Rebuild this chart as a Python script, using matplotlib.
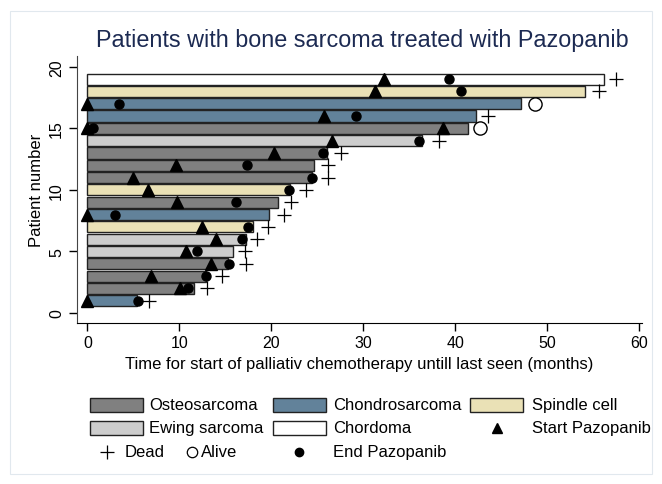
import matplotlib
matplotlib.use("Agg")
import matplotlib.pyplot as plt
from matplotlib.patches import Rectangle
from matplotlib.lines import Line2D

plt.rcParams["font.family"] = ["Liberation Sans", "DejaVu Sans"]

# ===== DATOS =====

patients = list(range(1, 20))

histology = [
    "Chondrosarcoma", "Osteosarcoma", "Osteosarcoma", "Osteosarcoma",
    "Ewing sarcoma", "Ewing sarcoma", "Spindle cell", "Chondrosarcoma",
    "Osteosarcoma", "Spindle cell", "Osteosarcoma", "Osteosarcoma",
    "Osteosarcoma", "Ewing sarcoma", "Osteosarcoma", "Chondrosarcoma",
    "Chondrosarcoma", "Spindle cell", "Chordoma",
]

last_seen = [5.4, 11.6, 12.85, 15.25, 15.8, 17.2, 18.0, 19.75, 20.75, 22.0,
             24.45, 24.65, 26.0, 36.35, 41.35, 42.25, 47.15, 54.1, 56.2]

# start pazopanib (patient 15 has two starts)
start_y = [1, 2, 3, 4, 5, 6, 7, 8, 9, 10, 11, 12, 13, 14, 15, 15, 16, 17, 18, 19]
start_x = [0, 10.1, 6.9, 13.4, 10.7, 14.0, 12.45, 0, 9.75, 6.6, 4.9, 9.6,
           20.3, 26.55, 0, 38.7, 25.75, 0, 31.3, 32.25]

end_pazo = [5.5, 10.95, 12.9, 15.35, 11.95, 16.75, 17.5, 3.0, 16.2, 21.9,
            24.45, 17.35, 25.6, 36.05, 0.55, 29.2, 3.4, 40.6, 39.35]

dead_y = [1, 2, 3, 4, 5, 6, 7, 8, 9, 10, 11, 12, 13, 14, 16, 18, 19]
dead_x = [6.7, 12.95, 14.6, 17.2, 17.1, 18.4, 19.65, 21.35, 22.1, 23.75,
          26.15, 26.2, 27.6, 38.25, 43.55, 55.6, 57.5]

alive_y = [15, 17]
alive_x = [42.65, 48.7]

colores = {
    "Osteosarcoma": "#808080",
    "Chondrosarcoma": "#62829a",
    "Spindle cell": "#eae1b6",
    "Ewing sarcoma": "#cdcdcd",
    "Chordoma": "#ffffff",
}

# ===== GRAFICA =====

W, H = 662, 485
fig = plt.figure(figsize=(W / 100, H / 100), dpi=100)


def fx(px):
    return px / W


def fy(py):
    return 1 - py / H


# marco tenue del area del grafico
fig.add_artist(Rectangle((fx(10), fy(475)), fx(642), 463 / H,
                         transform=fig.transFigure, fill=False,
                         edgecolor="#e1e8ee", linewidth=0.8))

ax = fig.add_axes([fx(76.7), fy(324), fx(642.5) - fx(76.7), fy(56.7) - fy(324)])

ax.barh(patients, last_seen, height=0.9, left=0,
        color=[colores[h] for h in histology],
        edgecolor="#222222", linewidth=1.0, zorder=2)

ax.plot(start_x, start_y, linestyle="none", marker="^", markersize=8,
        color="black", zorder=4, clip_on=False)
ax.plot(end_pazo, patients, linestyle="none", marker="o", markersize=6.5,
        color="black", zorder=4, clip_on=False)
ax.plot(dead_x, dead_y, linestyle="none", marker="+", markersize=10,
        markeredgewidth=0.9, color="black", zorder=4)
ax.plot(alive_x, alive_y, linestyle="none", marker="o", markersize=9.5,
        markerfacecolor="white", markeredgecolor="black",
        markeredgewidth=1.0, zorder=4)

ax.set_xlim(-1.17, 60.35)
ax.set_ylim(-0.81, 20.9)

ax.set_xticks([0, 10, 20, 30, 40, 50, 60])
ax.set_yticks([0, 5, 10, 15, 20])
ax.tick_params(axis="x", length=6, width=1, labelsize=11.5, pad=3)
ax.tick_params(axis="y", length=6, width=1, labelsize=11.5, pad=3,
               labelrotation=90)
for lbl in ax.get_yticklabels():
    lbl.set_verticalalignment("center")

ax.spines["top"].set_visible(False)
ax.spines["right"].set_visible(False)
ax.spines["left"].set_color("#444444")

ax.set_xlabel("Time for start of palliativ chemotherapy untill last seen (months)",
              fontsize=12, labelpad=4)
ax.set_ylabel("Patient number", fontsize=12, labelpad=4)

fig.text(fx(362), fy(40), "Patients with bone sarcoma treated with Pazopanib",
         fontsize=16.8, color="#1c2a52", ha="center", va="center")

# ===== LEYENDA =====

ley_cajas = [
    ("Osteosarcoma", 90, 149, 406),
    ("Chondrosarcoma", 273, 333, 406),
    ("Spindle cell", 470, 532, 406),
    ("Ewing sarcoma", 90, 149, 429),
    ("Chordoma", 273, 333, 429),
]
for nombre, bx, tx, ry in ley_cajas:
    fig.add_artist(Rectangle((fx(bx), fy(ry + 7)), 53 / W, 14 / H,
                             transform=fig.transFigure,
                             facecolor=colores[nombre], edgecolor="#222222",
                             linewidth=1.0))
    fig.text(fx(tx), fy(ry), nombre, fontsize=12, ha="left", va="center")

fig.add_artist(Line2D([fx(497)], [fy(429)], marker="^", markersize=7,
                      color="black", linestyle="none",
                      transform=fig.transFigure))
fig.text(fx(532), fy(429), "Start Pazopanib", fontsize=12, ha="left", va="center")

fig.add_artist(Line2D([fx(107)], [fy(453)], marker="+", markersize=10,
                      markeredgewidth=0.9, color="black", linestyle="none",
                      transform=fig.transFigure))
fig.text(fx(125), fy(453), "Dead", fontsize=12, ha="left", va="center")
fig.add_artist(Line2D([fx(192)], [fy(453)], marker="o", markersize=7.5,
                      markerfacecolor="white", markeredgecolor="black",
                      markeredgewidth=0.9, linestyle="none",
                      transform=fig.transFigure))
fig.text(fx(201), fy(453), "Alive", fontsize=12, ha="left", va="center")

fig.add_artist(Line2D([fx(299)], [fy(453)], marker="o", markersize=6,
                      color="black", linestyle="none",
                      transform=fig.transFigure))
fig.text(fx(333), fy(453), "End Pazopanib", fontsize=12, ha="left", va="center")

fig.savefig("out.png", dpi=100)
plt.close(fig)
